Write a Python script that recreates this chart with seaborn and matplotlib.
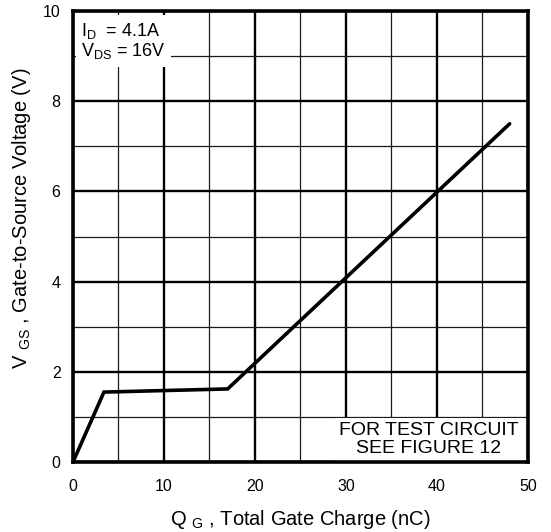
import matplotlib
matplotlib.use("Agg")
import matplotlib.pyplot as plt
import seaborn as sns
import pandas as pd
from matplotlib.ticker import MultipleLocator

# data
qg = [0.0, 3.4, 17.0, 48.0]
vgs = [0.0, 1.55, 1.62, 7.5]
x_ticks = [0, 10, 20, 30, 40, 50]
y_ticks = [0, 2, 4, 6, 8, 10]

sns.set_theme(style="white")
plt.rcParams['font.family'] = ['Liberation Sans', 'DejaVu Sans']
plt.rcParams['mathtext.fontset'] = 'custom'
plt.rcParams['mathtext.rm'] = 'Liberation Sans'
plt.rcParams['mathtext.it'] = 'Liberation Sans'
plt.rcParams['text.color'] = 'black'
plt.rcParams['axes.labelcolor'] = 'black'

fig = plt.figure(figsize=(5.51, 5.32), dpi=100)
ax = fig.add_axes([0.1325, 0.1316, 0.8255, 0.8477])

df = pd.DataFrame({"qg": qg, "vgs": vgs})
sns.lineplot(data=df, x="qg", y="vgs", ax=ax, color="black", linewidth=2.6,
             zorder=5, solid_joinstyle='miter')

ax.set_xlim(0, 50)
ax.set_ylim(0, 10)
ax.set_xticks(x_ticks)
ax.set_yticks(y_ticks)
ax.xaxis.set_minor_locator(MultipleLocator(5))
ax.yaxis.set_minor_locator(MultipleLocator(1))
ax.grid(which='major', color='black', linewidth=1.7, zorder=1)
ax.grid(which='minor', color='#1a1a1a', linewidth=0.9, zorder=1)
ax.set_axisbelow(True)
ax.tick_params(which='both', length=0, labelsize=11.5, colors='black')
ax.tick_params(axis='x', pad=12)
ax.tick_params(axis='y', pad=9)

for s in ax.spines.values():
    s.set_linewidth(2.6)
    s.set_color('black')
    s.set_zorder(10)

ax.set_xlabel(r"Q $_{\mathregular{G}}$ , Total Gate Charge (nC)", fontsize=14.5, labelpad=10)
ax.set_ylabel(r"V $_{\mathregular{GS}}$ , Gate-to-Source Voltage (V)", fontsize=14.5)
ax.yaxis.set_label_coords(-0.088, 0.54)

ax.text(0.9, 9.78, "I$_{\\mathregular{D}}$  = 4.1A\nV$_{\\mathregular{DS}}$ = 16V", fontsize=13,
        ha='left', va='top', zorder=6, linespacing=1.0,
        bbox=dict(facecolor='white', edgecolor='none', pad=4))
ax.text(49.0, 0.12, "FOR TEST CIRCUIT\nSEE FIGURE 12", fontsize=14,
        ha='right', va='bottom', zorder=6, multialignment='center', linespacing=1.05,
        bbox=dict(facecolor='white', edgecolor='none', pad=3))

fig.savefig("out.png", dpi=100)
